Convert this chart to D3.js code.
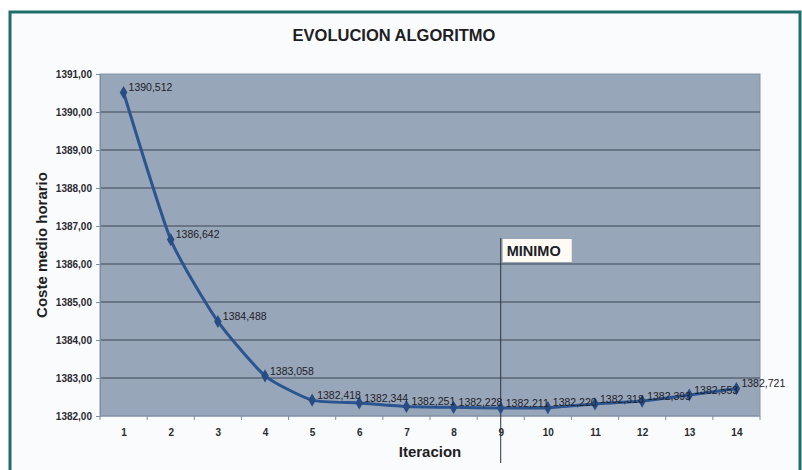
<!DOCTYPE html>
<html>
<head>
<meta charset="utf-8">
<script src="https://cdn.jsdelivr.net/npm/d3@7"></script>
<style>
  body { margin: 0; background: #ffffff; }
  svg { display: block; font-family: "Liberation Sans", Arial, sans-serif; }
</style>
</head>
<body>
<svg id="chart" width="802" height="470"></svg>
<script>
// data
const iteraciones = [1, 2, 3, 4, 5, 6, 7, 8, 9, 10, 11, 12, 13, 14];
const coste = [1390.512, 1386.642, 1384.488, 1383.058, 1382.418, 1382.344, 1382.251,
  1382.228, 1382.211, 1382.220, 1382.318, 1382.393, 1382.553, 1382.721];
const yTicks = [1382, 1383, 1384, 1385, 1386, 1387, 1388, 1389, 1390, 1391];
const minimoIter = 9;

// spanish number format: comma decimal, no grouping
const es = d3.formatLocale({ decimal: ",", thousands: ".", grouping: [3], currency: ["", " €"] });
const fmtTick = es.format(".2f");
const fmtLabel = es.format(".3f");

const svg = d3.select("#chart");
const plot = { left: 100, right: 760, top: 74, bottom: 416 };

// outer frame
svg.append("rect")
  .attr("x", 10).attr("y", 12)
  .attr("width", 790).attr("height", 470)
  .attr("fill", "#fafbfd")
  .attr("stroke", "#1d6e6c")
  .attr("stroke-width", 3);

svg.append("text")
  .attr("x", 394).attr("y", 41)
  .attr("text-anchor", "middle")
  .attr("font-size", 16.5).attr("font-weight", "bold")
  .attr("fill", "#1e1e24")
  .text("EVOLUCION ALGORITMO");

const band = d3.scaleBand().domain(iteraciones).range([plot.left, plot.right]);
const x = d => band(d) + band.bandwidth() / 2;
const y = d3.scaleLinear().domain([1382, 1391]).range([plot.bottom, plot.top]);

// plot background
svg.append("rect")
  .attr("x", plot.left).attr("y", plot.top)
  .attr("width", plot.right - plot.left).attr("height", plot.bottom - plot.top)
  .attr("fill", "#98a6ba")
  .attr("stroke", "#8593a8");

// gridlines
svg.append("g").selectAll("line")
  .data(yTicks.slice(1, -1))
  .join("line")
  .attr("x1", plot.left).attr("x2", plot.right)
  .attr("y1", d => y(d)).attr("y2", d => y(d))
  .attr("stroke", "#3c4753").attr("stroke-width", 1);

// y axis
const yAxis = svg.append("g")
  .attr("transform", `translate(${plot.left},0)`)
  .call(d3.axisLeft(y).tickValues(yTicks).tickFormat(fmtTick).tickSize(4).tickPadding(4));
yAxis.select(".domain").attr("stroke", "#7d8ea3");
yAxis.selectAll(".tick line").attr("stroke", "#7d8ea3");
yAxis.selectAll("text")
  .attr("font-size", 10).attr("font-weight", "bold")
  .attr("fill", "#2a2a30").attr("font-family", "Liberation Sans, Arial, sans-serif");

// x axis: labels at category centers, ticks on boundaries
const xPoint = d3.scalePoint().domain(iteraciones).range([x(1), x(14)]);
const xAxis = svg.append("g")
  .attr("transform", `translate(0,${plot.bottom})`)
  .call(d3.axisBottom(xPoint).tickSize(0).tickPadding(13));
xAxis.select(".domain").remove();
xAxis.selectAll("text")
  .attr("font-size", 10).attr("font-weight", "bold")
  .attr("fill", "#2a2a30").attr("font-family", "Liberation Sans, Arial, sans-serif");
svg.append("line")
  .attr("x1", plot.left).attr("x2", plot.right)
  .attr("y1", plot.bottom).attr("y2", plot.bottom)
  .attr("stroke", "#7d8ea3");
svg.append("g").selectAll("line")
  .data(iteraciones.concat([null]))
  .join("line")
  .attr("x1", (d, i) => i < iteraciones.length ? band(d) : plot.right)
  .attr("x2", (d, i) => i < iteraciones.length ? band(d) : plot.right)
  .attr("y1", plot.bottom).attr("y2", plot.bottom + 4)
  .attr("stroke", "#7d8ea3");

// axis titles
svg.append("text")
  .attr("transform", `translate(47,${(plot.top + plot.bottom) / 2}) rotate(-90)`)
  .attr("text-anchor", "middle")
  .attr("font-size", 15).attr("font-weight", "bold")
  .attr("fill", "#1e1e24")
  .text("Coste medio horario");
svg.append("text")
  .attr("x", 430).attr("y", 457)
  .attr("text-anchor", "middle")
  .attr("font-size", 15).attr("font-weight", "bold")
  .attr("fill", "#1e1e24")
  .text("Iteracion");

// MINIMO marker
const mx = x(minimoIter);
svg.append("line")
  .attr("x1", mx).attr("x2", mx)
  .attr("y1", 238).attr("y2", 463)
  .attr("stroke", "#2c3440").attr("stroke-width", 1);
svg.append("rect")
  .attr("x", mx + 2).attr("y", 239)
  .attr("width", 69).attr("height", 23)
  .attr("fill", "#fffaf4");
svg.append("text")
  .attr("x", mx + 6).attr("y", 256)
  .attr("font-size", 14.5).attr("font-weight", "bold")
  .attr("fill", "#1a2228")
  .text("MINIMO");

// series
const pts = iteraciones.map((d, i) => ({ it: d, v: coste[i] }));
const line = d3.line()
  .x(d => x(d.it))
  .y(d => y(d.v))
  .curve(d3.curveCardinal.tension(0.45));

svg.append("path")
  .datum(pts)
  .attr("d", line)
  .attr("fill", "none")
  .attr("stroke", "#2a5590")
  .attr("stroke-width", 3)
  .attr("stroke-linejoin", "round");

svg.append("g").selectAll("path")
  .data(pts)
  .join("path")
  .attr("transform", d => `translate(${x(d.it)},${y(d.v)})`)
  .attr("d", d3.symbol(d3.symbolDiamond, 50))
  .attr("fill", "#284d85");

svg.append("g").selectAll("text")
  .data(pts)
  .join("text")
  .attr("x", d => x(d.it) + 5)
  .attr("y", d => y(d.v) - 4)
  .attr("dominant-baseline", "middle")
  .attr("font-size", 10.5)
  .attr("fill", "#1e2026")
  .text(d => fmtLabel(d.v));
</script>
</body>
</html>
